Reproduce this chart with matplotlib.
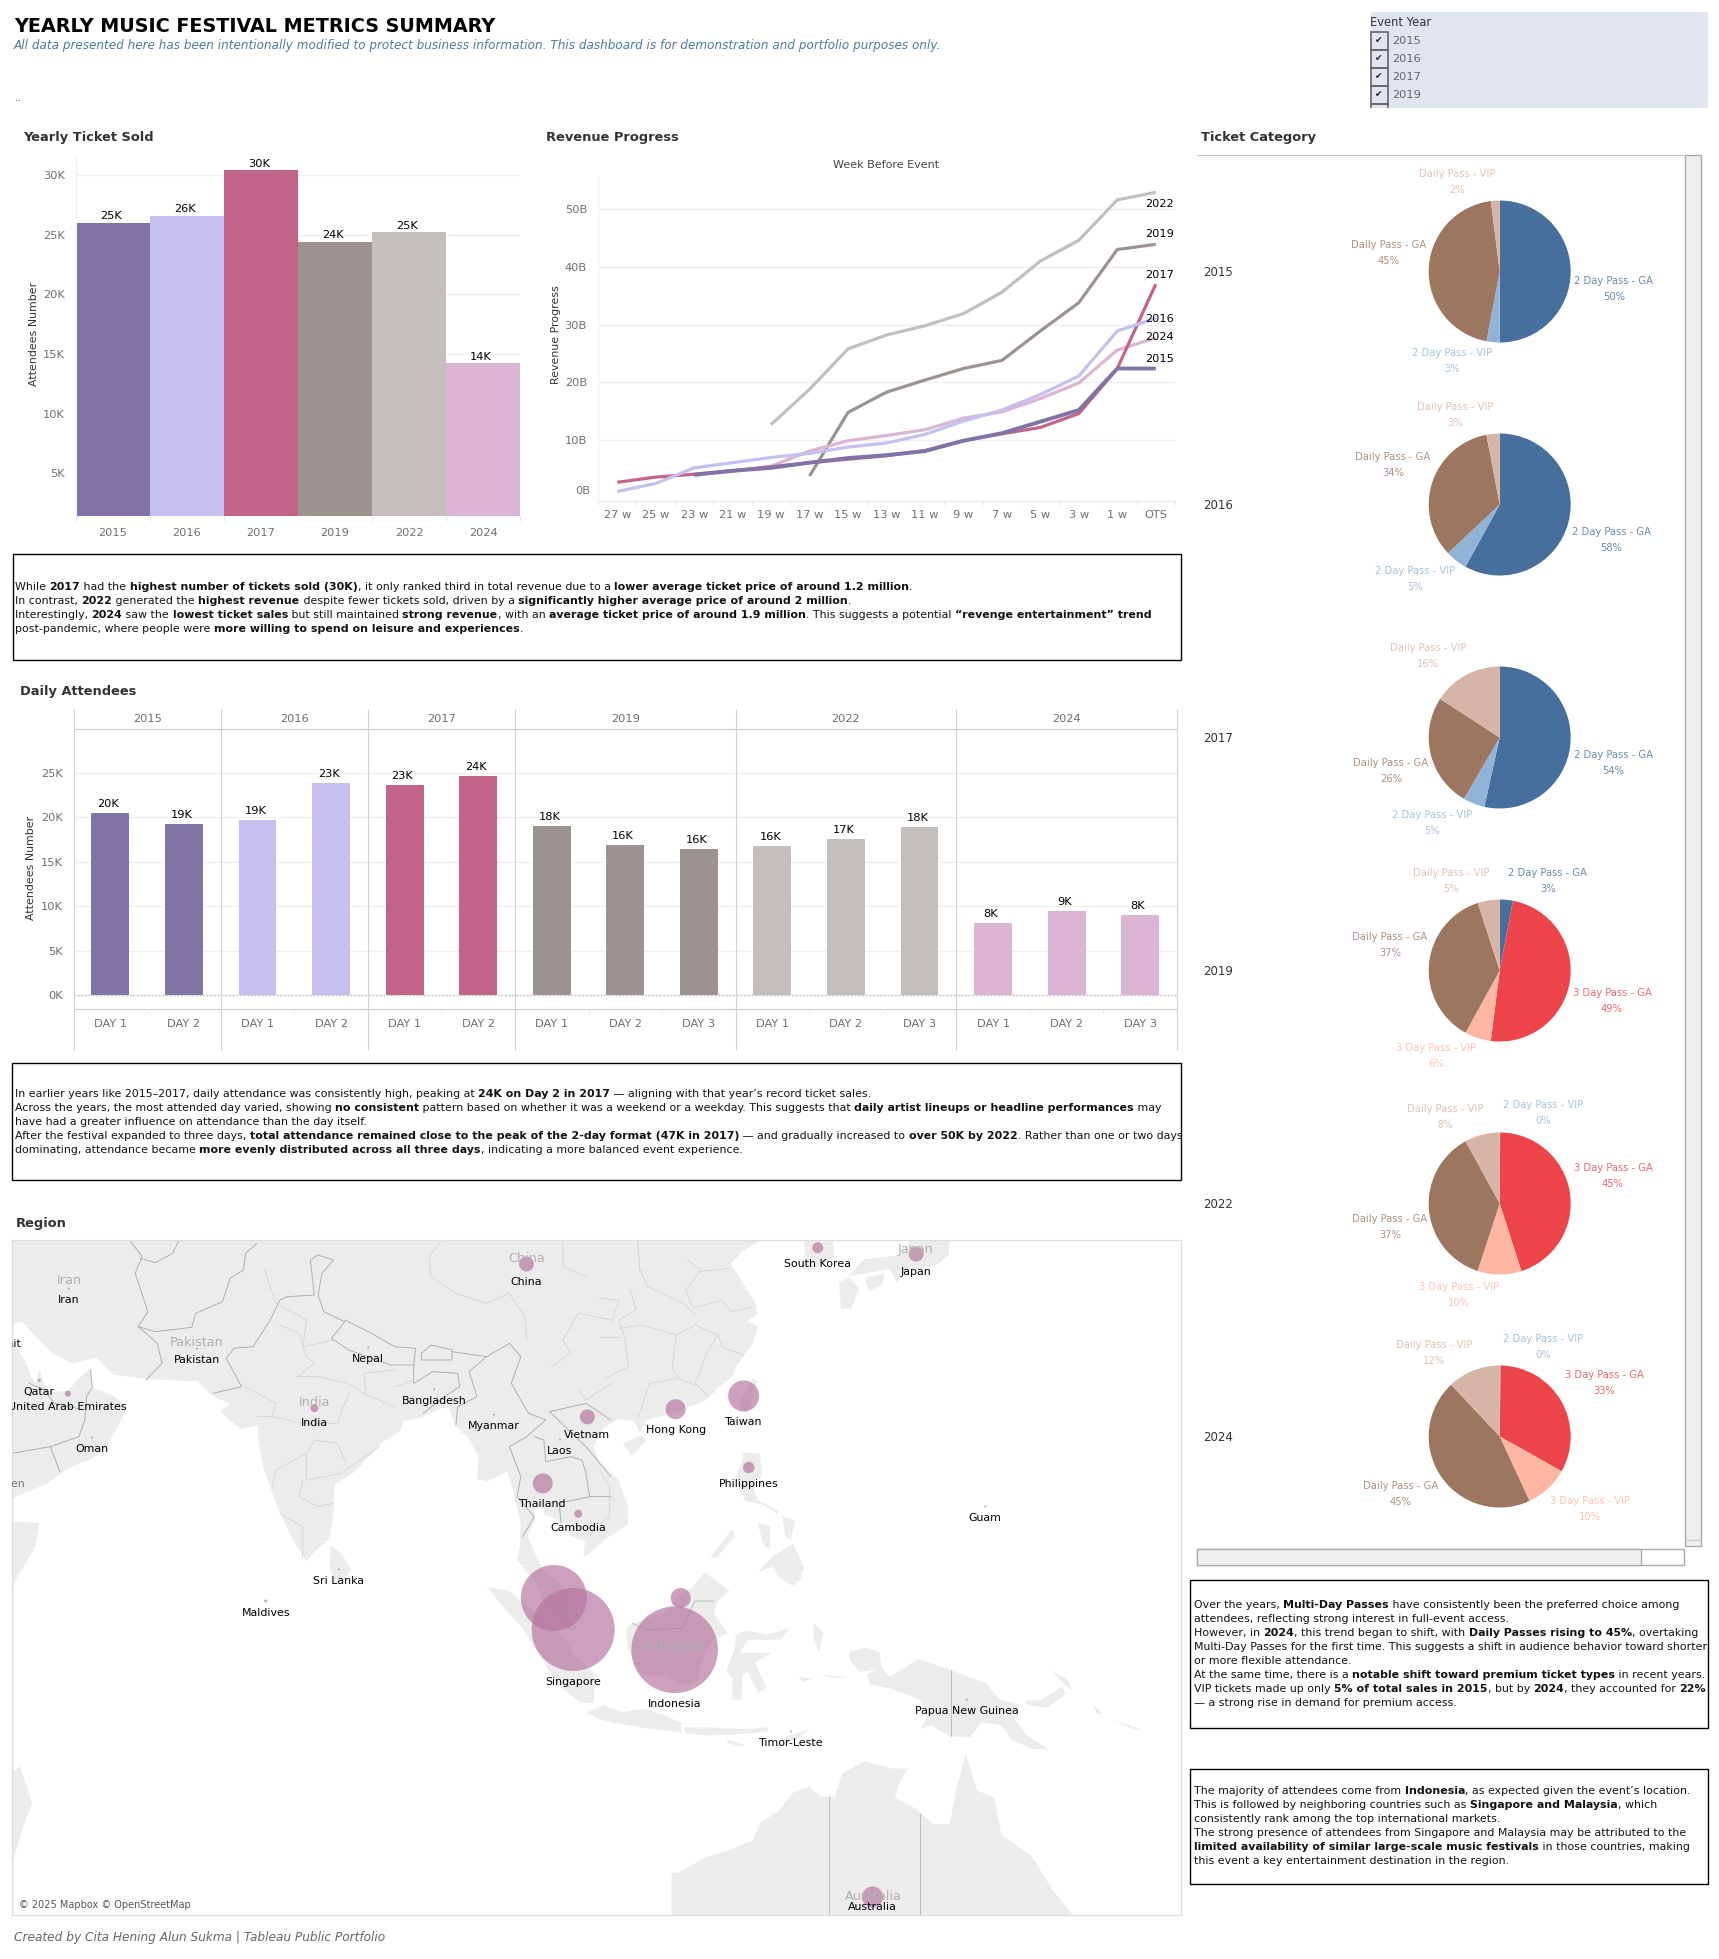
import numpy as np
import matplotlib
matplotlib.use("Agg")
import matplotlib.pyplot as plt
from matplotlib.patches import Rectangle, Polygon

# ---- data ----
years = ["2015", "2016", "2017", "2019", "2022", "2024"]
year_colors = ["#8273a7", "#c6c0ee", "#c26487", "#9c9290", "#c4bfbc", "#dcb5d5"]

ticket_sold = [26.0, 26.6, 30.4, 24.4, 25.2, 14.2]
ticket_labels = ["25K", "26K", "30K", "24K", "25K", "14K"]

weeks = ["27 w", "25 w", "23 w", "21 w", "19 w", "17 w", "15 w", "13 w", "11 w", "9 w", "7 w", "5 w", "3 w", "1 w", "OTS"]
rev_2022 = [None, None, None, None, 12.7, 18.8, 25.8, 28.2, 29.8, 31.9, 35.6, 41.0, 44.6, 51.6, 52.9]
rev_2019 = [None, None, None, None, None, 3.8, 14.8, 18.3, 20.4, 22.4, 23.8, 28.9, 33.8, 43.0, 43.9]
rev_2024 = [None, None, 4.0, 4.6, 5.5, 8.1, 9.9, 10.8, 11.8, 13.8, 14.9, 17.2, 19.9, 25.6, 27.7]
rev_2017 = [2.7, 3.6, 4.1, 4.7, 5.4, 6.1, 6.7, 7.3, 8.2, 9.9, 11.1, 12.2, 14.6, 22.4, 37.0]
rev_2016 = [1.1, 2.5, 5.2, 6.1, 7.0, 7.7, 8.8, 9.5, 11.0, 13.3, 15.2, 17.9, 21.1, 28.9, 31.1]
rev_2015 = [None, None, 4.0, 4.7, 5.2, 6.1, 6.9, 7.4, 8.1, 9.9, 11.2, 13.2, 15.2, 22.4, 22.4]

daily_2015 = [20.5, 19.2]
daily_2016 = [19.7, 23.8]
daily_2017 = [23.6, 24.6]
daily_2019 = [19.0, 16.9, 16.4]
daily_2022 = [16.7, 17.5, 18.9]
daily_2024 = [8.1, 9.4, 9.0]
daily_labels = ["20K", "19K", "19K", "23K", "23K", "24K", "18K", "16K", "16K", "16K", "17K", "18K", "8K", "9K", "8K"]

type_colors = {
    "2 Day Pass - GA": "#466f9d",
    "2 Day Pass - VIP": "#91b3d7",
    "3 Day Pass - GA": "#ed444a",
    "3 Day Pass - VIP": "#feb5a2",
    "Daily Pass - GA": "#9d7660",
    "Daily Pass - VIP": "#d7b5a6",
}
pie_types_a = ["2 Day Pass - GA", "2 Day Pass - VIP", "Daily Pass - GA", "Daily Pass - VIP"]
pie_types_b = ["2 Day Pass - GA", "3 Day Pass - GA", "3 Day Pass - VIP", "Daily Pass - GA", "Daily Pass - VIP"]
pie_types_c = ["2 Day Pass - VIP", "3 Day Pass - GA", "3 Day Pass - VIP", "Daily Pass - GA", "Daily Pass - VIP"]
pie_2015 = [50, 3, 45, 2]
pie_2016 = [58, 5, 34, 3]
pie_2017 = [54, 5, 26, 16]
pie_2019 = [3, 49, 6, 37, 5]
pie_2022 = [0.1, 45, 10, 37, 8]
pie_2024 = [0.2, 33, 10, 45, 12]

countries = ["China", "South Korea", "Japan", "Iran", "Pakistan", "Nepal", "Bangladesh", "India", "Qatar",
             "United Arab Emirates", "Oman", "Myanmar", "Vietnam", "Laos", "Hong Kong", "Taiwan", "Philippines",
             "Thailand", "Cambodia", "Guam", "Sri Lanka", "Maldives", "Malaysia", "Singapore", "Brunei", "Indonesia",
             "Papua New Guinea", "Timor-Leste", "Australia", "Kuwait", "Yemen"]
country_lon = [99.2, 127.9, 137.6, 54.1, 66.7, 83.6, 90.1, 78.3, 51.2, 54.0, 56.4, 96.0, 105.2, 102.5, 113.9, 120.6,
               121.1, 100.8, 104.3, 144.4, 80.7, 73.5, 101.9, 103.8, 114.4, 113.8, 142.6, 125.3, 133.3, 47.6, 48.0]
country_lat = [35.0, 36.3, 35.8, 33.0, 27.9, 28.0, 24.3, 22.6, 25.1, 23.9, 19.9, 22.0, 21.8, 19.7, 22.5, 23.7,
               17.1, 15.6, 12.7, 13.4, 7.3, 4.2, 4.5, 1.4, 4.5, -0.6, -5.5, -8.6, -24.2, 29.3, 16.6]
country_attendees = [225, 121, 225, 4, 4, 4, 4, 64, 9, 36, 4, 4, 225, 4, 400, 961, 132, 400, 64, 4, 4, 9, 4356,
                     6889, 400, 7482, 4, 4, 441, 4, 4]
hidden_labels = ["Malaysia", "Brunei"]
basemap_names = ["Iran", "Pakistan", "India", "China", "Japan", "Indonesia", "Australia"]

# coarse coastlines as lon/lat rings
land = [
    [(129.4, 37), (129.5, 35.5), (127.5, 34.6), (126.3, 34.6), (126.6, 36), (126.6, 37.5), (125, 38), (124.5, 40), (122, 40), (121, 39),
     (119, 39.2), (118, 39), (117.8, 38), (119, 37.3), (120.8, 37.8), (122.5, 37), (120.5, 36), (119.3, 35), (120.5, 33.5), (121.8, 31.7),
     (121.9, 30.8), (121, 30.3), (122, 29.8), (121.5, 28.3), (120, 26.5), (119.5, 25.5), (118.2, 24.5), (116.7, 23.2), (114.3, 22.4), (113, 22),
     (111, 21.5), (110.4, 20.4), (109.8, 21.4), (108.2, 21.6), (106.7, 20.7), (105.8, 19), (106.5, 17.5), (108.2, 16), (109.2, 13.5), (109.2, 11.7),
     (107.2, 10.4), (106.7, 10), (105.2, 8.7), (104.8, 8.6), (105, 10), (103.5, 10.6), (102.5, 12), (100.9, 12.7), (100.9, 13.5), (100, 13.4),
     (100, 12), (99.3, 10.5), (100.2, 8.5), (101, 6.9), (102.3, 6.2), (103.4, 4.5), (103.5, 2.7), (104.2, 1.4), (103.5, 1.3), (101.3, 2.9),
     (100.4, 5.5), (99.7, 6.5), (98.3, 8.2), (98.6, 10), (98.6, 12), (97.7, 15.5), (97.3, 16.7), (95.4, 15.8), (94.3, 16), (94.5, 18),
     (93.5, 19.8), (92.2, 21), (91.5, 22.7), (90.5, 22.5), (89, 21.8), (87, 21.4), (86.8, 20.5), (85, 19.5), (82.3, 16.7), (80.3, 15.5),
     (80.2, 13), (79.8, 10.3), (78.2, 8.9), (77.5, 8.1), (76.3, 10), (74.8, 13), (73.3, 17), (72.8, 19.5), (72.7, 21), (71, 20.7),
     (69, 22.3), (70, 23), (68.2, 23.7), (66.8, 25), (62, 25.2), (58.5, 25.6), (56.8, 27.1), (54.5, 26.6), (52.5, 27.5), (50.8, 29),
     (49.5, 30.2), (48.5, 30), (40, 31), (40, 45), (135, 45), (130, 42.5), (129.5, 39), (128.3, 38.4)],
    [(48, 30), (48.5, 28.5), (49.8, 26.8), (50.2, 25.8), (50.8, 24.8), (51.2, 26.1), (51.6, 25), (52, 24), (54, 24.2), (55.5, 25.6),
     (56.3, 26.2), (56.4, 24.5), (58.7, 23.6), (59.8, 22.5), (58.6, 20.4), (57.8, 19), (56.5, 18), (54, 17), (52, 15.6), (48, 14), (46, 13), (40, 13), (40, 30)],
    [(79.9, 9.7), (81, 8.8), (81.9, 7.3), (81.2, 6.2), (80.3, 6), (79.8, 7.5)],
    [(95.3, 5.6), (97.5, 5.2), (100.3, 2.8), (103, 0.6), (104, -1.2), (106, -3), (105.8, -5.8), (104.5, -5.8), (102.2, -4), (100.4, -1), (98.7, 1.7), (97, 3.5)],
    [(105.2, -6.8), (106.8, -6), (108.6, -6.7), (110.8, -6.4), (112.7, -7), (114.5, -7.8), (114.4, -8.7), (111, -8.3), (108, -7.8), (106.3, -7.4)],
    [(114.7, -8.2), (117, -8.2), (119, -8.3), (121, -8.4), (123, -8.2), (123, -8.6), (120, -8.9), (117, -9), (115, -8.8)],
    [(123.5, -10.3), (125, -9), (127.2, -8.4), (125.5, -9.5), (124, -10.3)],
    [(119, -9.4), (120.8, -10), (120, -10), (119, -9.7)],
    [(109, 1.5), (109.7, 2), (111.3, 2.5), (113, 3.2), (114, 4.6), (115.5, 5.5), (116.8, 7), (119.2, 5.2), (118, 4.2), (117.7, 3), (119, 1), (117.5, 0.3),
     (116.5, -1.7), (116, -3.8), (114.6, -4.1), (113, -3.2), (111.7, -3.2), (110.2, -2.8), (109.2, -0.5)],
    [(119.8, 0.8), (120.8, 1.3), (123, 0.9), (125, 1.5), (124.3, 0.4), (121, 0.4), (120.2, -0.9), (121.6, -0.9), (123.3, -0.9), (121.7, -1.9), (122.9, -4.4),
     (122, -4.8), (121, -2.8), (120.5, -3), (120.4, -5.5), (119.5, -5.5), (119.5, -3.5), (118.9, -2.7), (119.8, -0.1)],
    [(127.5, 2), (128.5, 1), (128, -0.8), (127.5, 0.5)],
    [(128, -3), (130.8, -3.3), (129.5, -3.4)],
    [(126, -3.2), (127.2, -3.5), (126.5, -3.8)],
    [(131, -0.8), (132.5, -0.4), (134, -0.8), (134.2, -2.3), (135, -3.3), (137.8, -1.5), (141, -2.6), (144.5, -3.9), (145.8, -5.5), (147.8, -6), (147, -7),
     (148.5, -9), (150.7, -10.4), (149, -10.3), (147, -9.4), (146, -8), (144, -7.7), (143, -9.2), (141, -9.1), (139, -8), (138, -8.4), (138.8, -7), (138, -5.5),
     (135, -4.4), (133, -4), (132.8, -3), (133.8, -2.5), (132, -2.8), (131, -1.5)],
    [(148.3, -5.6), (150, -5.5), (152, -4.2), (152.3, -5), (150.5, -6.3), (148.5, -6)],
    [(150.8, -2.6), (152.5, -3.5), (153, -4.6), (152, -3.8)],
    [(155, -6), (156, -6.9), (155.4, -6.9)],
    [(157, -7.5), (159.8, -8.4), (159, -8.4)],
    [(120.6, 18.5), (122.2, 18.4), (122.4, 16.5), (121.6, 15), (122, 14), (124, 13), (124, 12.6), (122.5, 13.6), (120.8, 13.9), (120.2, 15), (119.9, 16.3), (120.4, 17.5)],
    [(122, 7), (123.5, 8.6), (125.5, 9.8), (126.5, 7.5), (126.2, 6.3), (125.4, 5.7), (124, 6.6), (123.5, 7.6)],
    [(124.4, 12.5), (125.7, 12), (125.2, 10.2), (124.7, 10.5)],
    [(122, 11.8), (123.2, 11.5), (123.2, 9.2), (122.5, 9.8)],
    [(117.3, 8.4), (119.5, 11.3), (119.7, 10.5), (118, 8.5)],
    [(121.5, 25.3), (122, 25), (120.9, 22), (120.1, 23)],
    [(108.7, 19.3), (110.5, 20.1), (111, 19.6), (109.6, 18.2)],
    [(130.9, 34), (132.5, 35.4), (136, 35.7), (137.5, 37.4), (139, 38), (140, 40), (141.3, 41.4), (142, 39.5), (141, 38), (140.8, 35.7), (139.8, 35), (138.5, 34.7),
     (136.8, 34.5), (135.7, 33.5), (135, 34.6), (133, 34.3)],
    [(130, 33.5), (131, 33.9), (132, 33), (131.2, 31.3), (130.2, 31.3)],
    [(132.5, 33.9), (134.5, 34.2), (134.2, 33.3), (133, 32.8)],
    [(113.5, -22), (114.2, -22), (116.8, -20.6), (119, -20), (121.5, -19), (122.3, -17.3), (124, -16.3), (125.5, -14.5), (127, -13.9), (128.2, -14.9), (129.6, -14.9),
     (130.3, -12.7), (132.5, -11.5), (135.2, -12.2), (136.8, -12.2), (136, -13.5), (135.5, -15), (137.5, -16), (139.3, -17.5), (140.9, -17.5), (141.6, -14), (142.5, -10.8),
     (143.6, -14.3), (145.3, -15), (146, -18.5), (149, -20.5), (151, -23.5), (153.2, -26), (153, -30), (152, -40), (110, -40), (113.5, -26)],
    [(49.3, -12), (50.5, -15.5), (49.5, -18), (48, -23), (44, -25), (44, -16)],
    [(48, 12), (51.2, 11.8), (50.8, 9.5), (49, 6.5), (48, 4.5), (40, 0), (40, 12)],
]
# southern borders in lon/lat
borders_south = [
    [(109.6, 2), (111, 1.4), (114.5, 1.5), (115.8, 4.2), (117.6, 4.2)],
    [(141, -2.6), (141, -9.1)],
    [(129, -14.9), (129, -40)],
    [(138, -16.5), (138, -40)],
]
# western borders traced on the reference map, in map pixels x3
borders_country = [
    [(310, 5), (340, 50), (322, 100), (355, 215), (330, 260), (380, 310), (392, 370), (350, 420)],
    [(330, 260), (375, 275), (470, 262), (480, 220), (550, 185), (570, 115), (605, 90), (610, 40), (640, 10)],
    [(335, 55), (375, 68), (420, 40), (435, 5)],
    [(525, 460), (600, 440), (560, 355), (580, 325), (630, 320), (675, 240), (700, 180), (720, 170)],
    [(720, 170), (790, 165), (780, 60), (800, 45), (840, 60), (810, 100), (800, 165), (815, 215), (870, 245), (835, 295)],
    [(835, 295), (880, 330), (990, 375), (1050, 375), (1055, 325), (1000, 320), (940, 280), (870, 240)],
    [(1070, 360), (1150, 360), (1150, 330), (1095, 315), (1070, 340), (1070, 360)],
    [(1150, 335), (1240, 350), (1300, 310), (1330, 350), (1305, 430), (1350, 520), (1395, 540)],
    [(1240, 350), (1195, 395), (1215, 470), (1165, 500), (1160, 555)],
    [(1050, 375), (1050, 430), (1100, 395), (1165, 400), (1170, 440), (1130, 470), (1075, 520)],
    [(1395, 540), (1345, 590), (1300, 620), (1330, 710), (1320, 770), (1365, 830), (1335, 890)],
    [(1365, 590), (1390, 600), (1395, 665), (1460, 650), (1490, 660), (1500, 700), (1510, 770)],
    [(1405, 515), (1450, 565), (1500, 620), (1565, 710)],
    [(1405, 515), (1500, 490), (1565, 540)],
    [(1430, 790), (1510, 770), (1565, 770)],
    [(1430, 790), (1435, 850)],
    [(205, 390), (210, 440), (195, 470), (190, 540), (175, 590), (100, 620), (0, 640)],
    [(100, 620), (125, 695)],
    [(45, 430), (85, 450), (110, 490), (190, 510)],
]
borders_state = [
    [(660, 90), (690, 190), (770, 240), (760, 320), (840, 300)],
    [(700, 255), (750, 280), (770, 350), (790, 370), (745, 410), (800, 410), (880, 430), (925, 465), (1000, 500)],
    [(610, 440), (690, 490), (680, 530), (640, 530)],
    [(680, 530), (760, 550), (850, 550), (880, 460)],
    [(770, 640), (790, 600), (850, 610), (870, 660)],
    [(770, 640), (690, 690), (680, 740)],
    [(770, 640), (770, 720), (860, 700), (960, 620)],
    [(760, 720), (750, 770), (800, 800), (840, 790)],
    [(700, 820), (760, 860), (760, 955)],
    [(925, 465), (920, 400), (1000, 390)],
    [(1000, 440), (1050, 420)],
    [(1120, 5), (1090, 50), (1095, 110), (1160, 160), (1240, 190), (1300, 160), (1340, 230), (1345, 300)],
    [(1410, 380), (1460, 340), (1440, 300), (1480, 220), (1568, 240)],
    [(1440, 0), (1440, 80), (1500, 110)],
    [(1480, 450), (1500, 480), (1568, 430)],
]
borders_china = [
    [(100, 5), (105, 90), (125, 140), (220, 190), (250, 225)],
    [(230, 60), (265, 90), (225, 150), (245, 205), (320, 180), (345, 215), (400, 200)],
    [(260, 95), (340, 85)],
    [(80, 150), (95, 210), (50, 240), (65, 290), (75, 380), (15, 415)],
    [(50, 265), (110, 255), (200, 285), (250, 255), (310, 285), (320, 320), (375, 345)],
    [(200, 285), (190, 385), (205, 415), (130, 430), (100, 535)],
    [(310, 285), (280, 340), (250, 430), (285, 470)],
    [(0, 175), (50, 180), (30, 250)],
    [(205, 415), (250, 435)],
    [(0, 290), (50, 290)],
    [(0, 690), (25, 740), (25, 830), (0, 850)],
]

text_box1 = [
    [("While ", 0), ("2017", 1), (" had the ", 0), ("highest number of tickets sold (30K)", 1), (", it only ranked third in total revenue due to a ", 0), ("lower average ticket price of around 1.2 million", 1), (".", 0)],
    [("In contrast, ", 0), ("2022", 1), (" generated the ", 0), ("highest revenue", 1), (" despite fewer tickets sold, driven by a ", 0), ("significantly higher average price of around 2 million", 1), (".", 0)],
    [("Interestingly, ", 0), ("2024", 1), (" saw the ", 0), ("lowest ticket sales", 1), (" but still maintained ", 0), ("strong revenue", 1), (", with an ", 0), ("average ticket price of around 1.9 million", 1), (". This suggests a potential ", 0), ("“revenge entertainment” trend", 1)],
    [("post-pandemic, where people were ", 0), ("more willing to spend on leisure and experiences", 1), (".", 0)],
]
text_box2 = [
    [("In earlier years like 2015–2017, daily attendance was consistently high, peaking at ", 0), ("24K on Day 2 in 2017", 1), (" — aligning with that year’s record ticket sales.", 0)],
    [("Across the years, the most attended day varied, showing ", 0), ("no consistent", 1), (" pattern based on whether it was a weekend or a weekday. This suggests that ", 0), ("daily artist lineups or headline performances", 1), (" may", 0)],
    [("have had a greater influence on attendance than the day itself.", 0)],
    [("After the festival expanded to three days, ", 0), ("total attendance remained close to the peak of the 2-day format (47K in 2017)", 1), (" — and gradually increased to ", 0), ("over 50K by 2022", 1), (". Rather than one or two days", 0)],
    [("dominating, attendance became ", 0), ("more evenly distributed across all three days", 1), (", indicating a more balanced event experience.", 0)],
]
text_box3 = [
    [("Over the years, ", 0), ("Multi-Day Passes", 1), (" have consistently been the preferred choice among", 0)],
    [("attendees, reflecting strong interest in full-event access.", 0)],
    [("However, in ", 0), ("2024", 1), (", this trend began to shift, with ", 0), ("Daily Passes rising to 45%", 1), (", overtaking", 0)],
    [("Multi-Day Passes for the first time. This suggests a shift in audience behavior toward shorter", 0)],
    [("or more flexible attendance.", 0)],
    [("At the same time, there is a ", 0), ("notable shift toward premium ticket types", 1), (" in recent years.", 0)],
    [("VIP tickets made up only ", 0), ("5% of total sales in 2015", 1), (", but by ", 0), ("2024", 1), (", they accounted for ", 0), ("22%", 1)],
    [("— a strong rise in demand for premium access.", 0)],
]
text_box4 = [
    [("The majority of attendees come from ", 0), ("Indonesia", 1), (", as expected given the event’s location.", 0)],
    [("This is followed by neighboring countries such as ", 0), ("Singapore and Malaysia", 1), (", which", 0)],
    [("consistently rank among the top international markets.", 0)],
    [("The strong presence of attendees from Singapore and Malaysia may be attributed to the", 0)],
    [("limited availability of similar large-scale music festivals", 1), (" in those countries, making", 0)],
    [("this event a key entertainment destination in the region.", 0)],
]

# ---- layout helpers, everything in reference pixels ----
W, H = 1719, 1959
GRID = "#f0f0f0"
TICK = "#6f6f6f"
BODY = 7.92
plt.rcParams["font.family"] = "DejaVu Sans"
plt.rcParams["font.size"] = 8

fig = plt.figure(figsize=(W / 100, H / 100), dpi=100, facecolor="white")
renderer = fig.canvas.get_renderer()


def ax_px(x0, y0, x1, y1):
    ax = fig.add_axes([x0 / W, 1 - y1 / H, (x1 - x0) / W, (y1 - y0) / H])
    for s in ax.spines.values():
        s.set_visible(False)
    return ax


over = fig.add_axes([0, 0, 1, 1], zorder=20)
over.set_xlim(0, W)
over.set_ylim(H, 0)
over.axis("off")
over.patch.set_alpha(0)


def label(x, y, s, size=8.2, color="black", ha="center", weight="normal", style="normal", rotation=0, alpha=None):
    return over.text(x, y, s, fontsize=size, color=color, ha=ha, va="center", fontweight=weight, fontstyle=style,
                     rotation=rotation, alpha=alpha)


def vline(x, y0, y1, color="#d2d2d2", lw=0.8):
    over.plot([x, x], [y0, y1], color=color, lw=lw, solid_capstyle="butt")


def hline(y, x0, x1, color="#d2d2d2", lw=0.9):
    over.plot([x0, x1], [y, y], color=color, lw=lw, solid_capstyle="butt")


def text_box(x0, y0, x1, y1, lines, tx, ty, dy, size=BODY):
    over.add_patch(Rectangle((x0, y0), x1 - x0, y1 - y0, fill=False, ec="black", lw=1))
    for i, line in enumerate(lines):
        x = tx
        for seg, bold in line:
            t = over.text(x, ty + i * dy, seg, fontsize=size, va="center", ha="left", color="#111111",
                          fontweight="bold" if bold else "normal")
            x += t.get_window_extent(renderer).width


def style_axes(ax):
    ax.tick_params(length=0, labelsize=8.2, labelcolor=TICK)
    ax.grid(axis="y", color=GRID, lw=1)
    ax.set_axisbelow(True)


# ---- header ----
label(14, 26, "YEARLY MUSIC FESTIVAL METRICS SUMMARY", size=13.78, ha="left", weight="bold")
label(14, 45, "All data presented here has been intentionally modified to protect business information. This dashboard is for demonstration and portfolio purposes only.",
      size=8.66, ha="left", style="italic", color="#4e79a7")
label(15, 98, "..", size=7, ha="left", color="#555555")

over.add_patch(Rectangle((1371, 12), 337, 96, fc="#e1e5f0", ec="none"))
label(1370, 23, "Event Year", size=8.3, ha="left", color="#333333")
for i, yr in enumerate(["2015", "2016", "2017", "2019"]):
    y = 41 + i * 18
    over.add_patch(Rectangle((1371, y - 9), 17, 18, fc="none", ec="#666666", lw=1.2))
    label(1379, y, "✔", size=6.5, color="#222222")
    label(1392, y, yr, size=8.2, ha="left", color="#666666")
vline(1371, 104, 108, color="#666666", lw=1.2)
vline(1388, 104, 108, color="#666666", lw=1.2)
hline(104, 1371, 1388, color="#666666", lw=1.2)

label(23, 138, "Yearly Ticket Sold", size=9.4, ha="left", weight="bold", color="#333333")
label(546, 138, "Revenue Progress", size=9.4, ha="left", weight="bold", color="#333333")
label(1201, 138, "Ticket Category", size=9.4, ha="left", weight="bold", color="#333333")
label(20, 691, "Daily Attendees", size=9.4, ha="left", weight="bold", color="#333333")
label(16, 1223, "Region", size=9.4, ha="left", weight="bold", color="#333333")

# ---- yearly ticket sold ----
ax1 = ax_px(76, 155, 520, 516)
style_axes(ax1)
ax1.bar(years, ticket_sold, width=1.0, color=year_colors)
ax1.set_xlim(-0.5, 5.5)
ax1.set_ylim(1.4, 31.7)
ax1.set_yticks([5, 10, 15, 20, 25, 30])
ax1.set_yticklabels(["5K", "10K", "15K", "20K", "25K", "30K"])
ax1.tick_params(axis="y", pad=8)
ax1.tick_params(axis="x", pad=9)
for i, v in enumerate(ticket_sold):
    ax1.text(i - 0.03, v + 0.15, ticket_labels[i], ha="center", va="bottom", fontsize=8.2, color="black")
label(34, 334, "Attendees Number", size=7.9, color="#333333", rotation=90)
vline(76, 155, 516, color="#f0f0f0")
for k in range(7):
    vline(76 + k * 444 / 6, 516, 521, color="#e8e8e8")

# ---- revenue progress ----
ax2 = ax_px(598, 175, 1175, 500.5)
style_axes(ax2)
x_week = np.arange(len(weeks))
rev_series = [("2022", rev_2022), ("2019", rev_2019), ("2024", rev_2024), ("2017", rev_2017), ("2016", rev_2016), ("2015", rev_2015)]
for yr, vals in rev_series:
    ys = np.array([np.nan if v is None else v for v in vals], dtype=float)
    ax2.plot(x_week, ys, color=year_colors[years.index(yr)], lw=2.8 if yr == "2015" else 2.3, solid_capstyle="butt")
ax2.set_xlim(-0.5, 14.5)
ax2.set_ylim(-0.45, 55.9)
ax2.set_xticks(x_week)
ax2.set_xticklabels(weeks)
ax2.set_yticks([10, 20, 30, 40, 50])
ax2.set_yticklabels(["10B", "20B", "30B", "40B", "50B"])
ax2.tick_params(axis="y", pad=8)
ax2.tick_params(axis="x", pad=7)
label(590, 491, "0B", color=TICK, ha="right")
label(886, 165, "Week Before Event", size=8, color="#444444")
label(556, 335, "Revenue Progress", size=7.9, color="#333333", rotation=90)
for yr, y in zip(["2022", "2019", "2017", "2016", "2024", "2015"], [204, 234, 275, 319, 337, 359]):
    label(1160, y, yr)
vline(598, 175, 500, color="#f0f0f0")
hline(500.5, 598, 1175, color="#e8e8e8")
for k in range(16):
    vline(598 + k * 577 / 15, 500.5, 505, color="#e8e8e8")

# ---- story box 1 ----
text_box(12.5, 553.5, 1181, 660, text_box1, 15, 587, 14)

# ---- daily attendees ----
ax3 = ax_px(73.6, 729, 1177, 1009)
style_axes(ax3)
daily_groups = [daily_2015, daily_2016, daily_2017, daily_2019, daily_2022, daily_2024]
pos = 0
edges = [0]
k = 0
day_names = []
for g, vals in enumerate(daily_groups):
    for d, v in enumerate(vals):
        ax3.bar(pos + 0.5, v, width=0.515, color=year_colors[g])
        ax3.text(pos + 0.47, v + 0.45, daily_labels[k], ha="center", va="bottom", fontsize=8.2, color="black")
        day_names.append("DAY %d" % (d + 1))
        pos += 1
        k += 1
    edges.append(pos)
ax3.set_xlim(0, pos)
ax3.set_ylim(-1.57, 29.9)
ax3.set_xticks(np.arange(pos) + 0.5)
ax3.set_xticklabels(day_names)
ax3.set_yticks([0, 5, 10, 15, 20, 25])
ax3.set_yticklabels(["0K", "5K", "10K", "15K", "20K", "25K"])
ax3.tick_params(axis="y", pad=8)
ax3.tick_params(axis="x", pad=7)
ax3.axhline(0, color="#bbbbbb", lw=1, ls=":", zorder=1)
hline(729, 73.6, 1177)
hline(1009, 73.6, 1177)
step = (1177 - 73.6) / pos
for j in range(pos + 1):
    vline(73.6 + j * step, 1009, 1014, color="#ececec")
for g, e in enumerate(edges):
    vline(73.6 + e * step, 709, 1050)
    if g < len(years):
        label(73.6 + (e + edges[g + 1]) / 2 * step, 719, years[g], color=TICK)
label(31, 868, "Attendees Number", size=7.9, color="#333333", rotation=90)

# ---- story box 2 ----
text_box(12, 1062.5, 1181, 1180, text_box2, 15, 1094, 14)

# ---- region map, web mercator ----
LON0, LON1 = 48.5, 163.7
PX_DEG = 10.15
EQ_Y = 1643.7
PX_RAD = 581.6


def merc(lat):
    return np.log(np.tan(np.pi / 4 + np.radians(np.asarray(lat, dtype=float)) / 2))


def traced(line, x_off, x_scale):
    # traced lines are map pixels x3, turn them into lon and mercator y
    pts = np.array(line, dtype=float)
    px = x_off + pts[:, 0] / x_scale
    py = 1240 + pts[:, 1] / 3
    return LON0 + (px - 12) / PX_DEG, (EQ_Y - py) / PX_RAD


ax4 = ax_px(12, 1240, 1181, 1915)
ax4.set_xlim(LON0, LON1)
ax4.set_ylim((EQ_Y - 1915) / PX_RAD, (EQ_Y - 1240) / PX_RAD)
ax4.set_xticks([])
ax4.set_yticks([])
for s in ax4.spines.values():
    s.set_visible(True)
    s.set_color("#dddddd")
    s.set_linewidth(0.9)
for ring in land:
    pts = np.array(ring, dtype=float)
    ax4.add_patch(Polygon(np.column_stack([pts[:, 0], merc(pts[:, 1])]), fc="#ececec", ec="none", zorder=1))
for line in borders_south:
    pts = np.array(line, dtype=float)
    ax4.plot(pts[:, 0], merc(pts[:, 1]), color="#b4b4b4", lw=0.6, zorder=2)
for line in borders_country:
    lon, my = traced(line, 12, 2.613)
    ax4.plot(lon, my, color="#a8a8a8", lw=0.6, zorder=2)
for line in borders_state:
    lon, my = traced(line, 12, 2.613)
    ax4.plot(lon, my, color="#cfcfcf", lw=0.5, zorder=2)
for line in borders_china:
    lon, my = traced(line, 600, 2.622)
    ax4.plot(lon, my, color="#cfcfcf", lw=0.5, zorder=2)

attendees = np.array(country_attendees, dtype=float)
# marker area in points^2, diameter in px is sqrt(attendees)
ax4.scatter(country_lon, merc(country_lat), s=attendees * 0.5184, color="#b5749f", alpha=0.68, lw=0, zorder=3)
for name, lon, lat, a in zip(countries, country_lon, country_lat, country_attendees):
    if name in hidden_labels:
        continue
    off = np.sqrt(a) * 0.72 / 2 + 7.6
    if name == "Australia":
        off = 7.4
    ax4.annotate(name, (lon, merc(lat)), xytext=(0, -off), textcoords="offset points", ha="center", va="center",
                 fontsize=7.9, color="#777777" if name == "Yemen" else "black", annotation_clip=False, clip_on=True, zorder=5)
for name, x, y in zip(basemap_names, [69, 197, 314, 527, 916, 675, 873], [1281, 1342, 1403, 1259, 1249, 1647, 1896]):
    label(x, y, name, size=9.2, color="#b0b0b0")
label(19, 1905, "© 2025 Mapbox © OpenStreetMap", size=7.05, ha="left", color="#555555")
label(14, 1937, "Created by Cita Hening Alun Sukma | Tableau Public Portfolio", size=8.7, ha="left", style="italic", color="#666666")

# ---- ticket category pies ----
pie_sets = [(pie_types_a, pie_2015), (pie_types_a, pie_2016), (pie_types_a, pie_2017),
            (pie_types_b, pie_2019), (pie_types_c, pie_2022), (pie_types_c, pie_2024)]
pie_centers = [271.5, 504.5, 737.5, 970.5, 1203.5, 1436.5]
pie_label_pos = [
    [(1614, 289.5), (1452, 361), (1389, 252.5), (1457, 182)],
    [(1611, 540), (1415, 579), (1393, 465), (1455, 415)],
    [(1613, 763.5), (1432, 822.5), (1391, 770.5), (1428, 656)],
    [(1548, 881), (1612, 1001.5), (1436, 1056), (1390, 945.5), (1451, 881)],
    [(1543, 1113.5), (1613, 1176), (1459, 1294.5), (1390, 1226.5), (1445, 1116.5)],
    [(1543, 1346.5), (1604, 1383.5), (1590, 1508.5), (1401, 1494), (1434, 1352.5)],
]
for i, yr in enumerate(years):
    types, vals = pie_sets[i]
    cy = pie_centers[i]
    pax = ax_px(1499.7 - 71, cy - 71, 1499.7 + 71, cy + 71)
    pax.pie(vals, colors=[type_colors[t] for t in types], startangle=90, counterclock=False, radius=1.0,
            wedgeprops={"linewidth": 0})
    pax.set_xlim(-1, 1)
    pax.set_ylim(-1, 1)
    pax.set_aspect("auto")
    label(1203, cy + 1, yr, size=8.5, ha="left", color="#333333")
    for t, v, (lx, ly) in zip(types, vals, pie_label_pos[i]):
        c = type_colors[t]
        label(lx, ly - 8, t, size=7.2, color=c, alpha=0.8)
        label(lx, ly + 8, "%d%%" % round(v), size=7.2, color=c, alpha=0.8)

hline(155, 1197, 1684, color="#cccccc")
over.add_patch(Rectangle((1684.5, 155), 16.5, 1391, fc="#efefef", ec="#aaaaaa", lw=1))
hline(1540, 1684.5, 1701, color="#cccccc")
over.add_patch(Rectangle((1197, 1548.5), 487, 16, fc="white", ec="#aaaaaa", lw=1))
over.add_patch(Rectangle((1197, 1548.5), 444, 16, fc="#efefef", ec="#aaaaaa", lw=1))

# ---- story boxes 3 and 4 ----
text_box(1190, 1580, 1707.5, 1727.5, text_box3, 1194, 1605, 14)
text_box(1190, 1769, 1707.5, 1883.5, text_box4, 1194, 1791, 14)

fig.savefig("out.png", dpi=100, facecolor="white")
